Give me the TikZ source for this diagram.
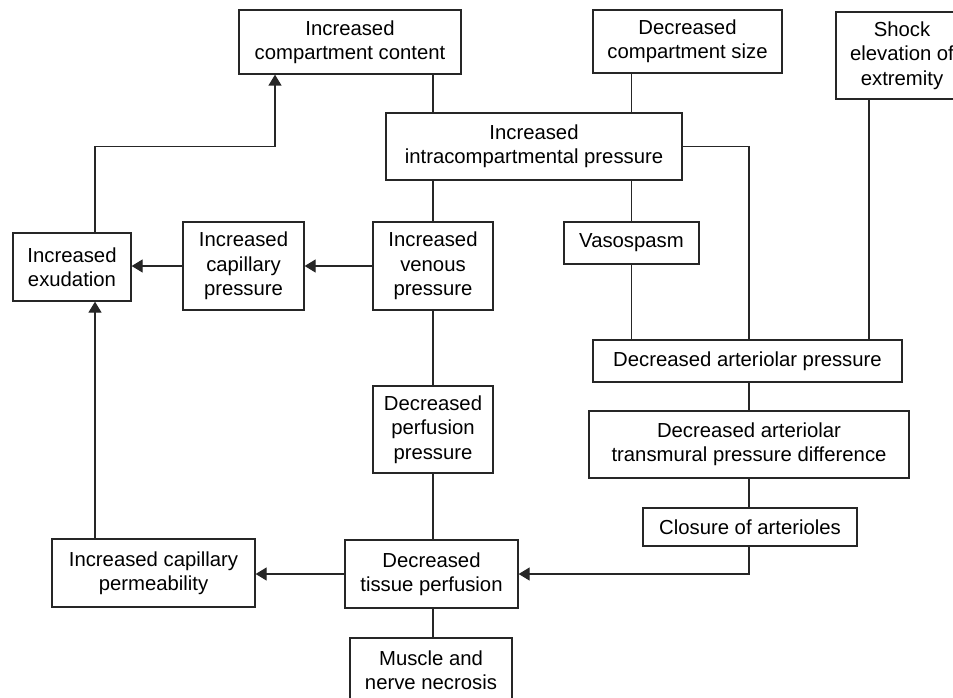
\documentclass[tikz,border=0pt]{standalone}
\usepackage{fontspec}
\setmainfont{Liberation Sans}
\usetikzlibrary{arrows.meta}
\begin{document}
\begin{tikzpicture}[x=1pt,y=-1pt,
  box/.style={draw=black!85, line width=1.3pt, rectangle, inner sep=0pt, align=center,
    font=\fontsize{20.3}{24.3}\selectfont},
  conn/.style={draw=black!85, line width=1.3pt},
  arr/.style={conn, -{Triangle[length=11pt,width=13pt]}}]
\useasboundingbox (0,0) rectangle (953,698);
\clip (0,0) rectangle (953,698);
\node[box, minimum width=222, minimum height=64] (content) at (350,42) {Increased\\compartment content};
\node[box, minimum width=189, minimum height=63] (size) at (687.5,41.5) {Decreased\\compartment size};
\node[box, minimum width=132, minimum height=87] (shock) at (902,55.5) {Shock\\elevation of\\extremity};
\node[box, minimum width=296, minimum height=67] (intra) at (534,146.5) {Increased\\intracompartmental pressure};
\node[box, minimum width=118, minimum height=68] (exud) at (72,267) {Increased\\exudation};
\node[box, minimum width=121, minimum height=88] (cap) at (243.5,266) {Increased\\capillary\\pressure};
\node[box, minimum width=120, minimum height=88] (venous) at (433,266) {Increased\\venous\\pressure};
\node[box, minimum width=135, minimum height=42] (vaso) at (631.5,243) {Vasospasm};
\node[box, minimum width=309, minimum height=42] (artp) at (747.5,361) {Decreased arteriolar pressure};
\node[box, minimum width=120, minimum height=87] (perfp) at (433,429.5) {Decreased\\perfusion\\pressure};
\node[box, minimum width=320, minimum height=67] (trans) at (749,444.5) {Decreased arteriolar\\transmural pressure difference};
\node[box, minimum width=214, minimum height=38] (clos) at (750,527) {Closure of arterioles};
\node[box, minimum width=203, minimum height=68] (perm) at (153.5,573) {Increased capillary\\permeability};
\node[box, minimum width=173, minimum height=68] (tissue) at (431.5,574) {Decreased\\tissue perfusion};
\node[box, minimum width=162, minimum height=64] (muscle) at (431,670) {Muscle and\\nerve necrosis};
\coordinate (sk) at (869,0);
\coordinate (ek) at (95,146.5);
\coordinate (ck) at (275,0);
% connectors
\draw[conn] (content.south -| venous.north) -- (intra.north -| venous.north);
\draw[conn] (size.south -| vaso.north) -- (intra.north -| vaso.north);
\draw[conn] (intra.east) -| (artp.north -| trans.north);
\draw[conn] (intra.south -| venous.north) -- (venous.north);
\draw[conn] (intra.south -| vaso.north) -- (vaso.north);
\draw[conn] (vaso.south) -- (artp.north -| vaso.south);
\draw[conn] (shock.south -| sk) -- (artp.north -| sk);
\draw[arr] (venous.west |- cap.east) -- (cap.east);
\draw[arr] (cap.west) -- (exud.east |- cap.west);
\draw[arr] (exud.north -| ek) -- (ek) -- (ck |- ek) -- (content.south -| ck);
\draw[arr] (perm.north -| ek) -- (exud.south -| ek);
\draw[conn] (venous.south) -- (perfp.north);
\draw[conn] (perfp.south) -- (tissue.north -| perfp.south);
\draw[conn] (artp.south -| trans.north) -- (trans.north);
\draw[conn] (trans.south) -- (clos.north -| trans.south);
\draw[arr] (clos.south -| trans.south) |- (tissue.east);
\draw[arr] (tissue.west) -- (perm.east |- tissue.west);
\draw[conn] (tissue.south -| perfp.south) -- (muscle.north -| perfp.south);
\end{tikzpicture}
\end{document}
